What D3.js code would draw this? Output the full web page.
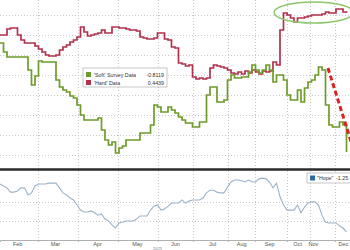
<!DOCTYPE html>
<html>
<head>
<meta charset="utf-8">
<script src="https://cdn.jsdelivr.net/npm/d3@7"></script>
<style>
  html, body { margin: 0; padding: 0; background: #fff; }
  svg { display: block; }
</style>
</head>
<body>
<div id="chart"></div>
<script>
const hardData = [
  0.40, 0.40, 0.46, 0.47, 0.47, 0.40, 0.35, 0.32, 0.32, 0.32,
  0.29, 0.26, 0.23, 0.20, 0.19, 0.19, 0.20, 0.25, 0.28, 0.30,
  0.33, 0.35, 0.38, 0.48, 0.43, 0.39, 0.40, 0.41, 0.42, 0.45,
  0.42, 0.42, 0.48, 0.48, 0.47, 0.47, 0.46, 0.45, 0.45, 0.44,
  0.38, 0.37, 0.36, 0.36, 0.37, 0.42, 0.42, 0.36, 0.35, 0.28,
  0.27, 0.12, 0.11, 0.09, 0.10, -0.02, -0.04, -0.03, -0.04, -0.03,
  0.07, 0.10, 0.09, 0.08, 0.07, 0.05, 0.02, 0.01, 0.03, 0.01,
  0.04, 0.02, 0.05, 0.03, 0.01, 0.04, 0.03, 0.04, 0.13, 0.10,
  0.45, 0.62, 0.60, 0.57, 0.53, 0.57, 0.57, 0.58, 0.59, 0.60,
  0.60, 0.60, 0.61, 0.63, 0.62, 0.62, 0.66, 0.66, 0.63, 0.62
];
const softData = [
  0.32, 0.23, 0.18, 0.18, 0.18, 0.18, 0.18, 0.18, 0.05, -0.10,
  -0.01, 0.14, 0.13, 0.13, 0.13, 0.13, -0.05, -0.12, -0.15, -0.17,
  -0.21, -0.23, -0.30, -0.40, -0.45, -0.45, -0.45, -0.45, -0.43, -0.55,
  -0.65, -0.70, -0.67, -0.78, -0.73, -0.71, -0.65, -0.65, -0.65, -0.65,
  -0.58, -0.58, -0.58, -0.50, -0.30, -0.32, -0.37, -0.37, -0.32, -0.35,
  -0.38, -0.42, -0.45, -0.48, -0.48, -0.52, -0.52, -0.47, -0.47, -0.20,
  -0.12, -0.12, -0.27, -0.27, -0.25, -0.05, 0.00, -0.03, -0.03, -0.02,
  -0.02, 0.03, 0.10, 0.05, 0.02, 0.05, 0.10, 0.05, -0.07, 0.00,
  0.00, -0.05, -0.20, -0.25, -0.25, -0.15, -0.27, -0.13, -0.07, -0.05,
  0.00, 0.08, 0.05, -0.30, -0.50, -0.52, -0.52, -0.47, -0.50, -0.77
];
const hopeData = [
  -0.05, -0.10, -0.15, -0.26, -0.26, -0.23, -0.15, -0.15, -0.33, -0.28,
  -0.10, -0.05, -0.05, -0.05, -0.03, -0.03, -0.03, -0.15, -0.28, -0.33,
  -0.41, -0.46, -0.59, -0.72, -0.77, -0.77, -0.74, -0.79, -0.85, -0.82,
  -0.95, -1.00, -1.10, -1.18, -1.05, -1.03, -1.00, -1.00, -1.00, -0.95,
  -0.87, -0.87, -0.87, -0.72, -0.62, -0.59, -0.72, -0.69, -0.62, -0.54,
  -0.54, -0.54, -0.46, -0.54, -0.49, -0.46, -0.46, -0.46, -0.41, -0.28,
  -0.21, -0.21, -0.26, -0.28, -0.28, -0.13, 0.00, 0.05, 0.05, 0.03,
  0.00, 0.05, 0.00, 0.00, 0.08, 0.10, 0.08, 0.00, -0.15, -0.03,
  -0.38, -0.59, -0.72, -0.72, -0.72, -0.59, -0.79, -0.64, -0.54, -0.51,
  -0.51, -0.59, -0.85, -1.03, -1.05, -1.05, -1.05, -1.13, -1.18, -1.28
];

// x axis: month boundaries and label positions, in observation units
const monthBreaks = [10.9, 22.3, 33.7, 45.1, 55.1, 65.1, 72.9, 82, 88.6, 95.7];
const monthLabelAt = [4.9, 15.7, 27.7, 39.1, 50, 60.6, 68.9, 76.9, 84.9, 89.4, 98];
const monthLabels = ["Feb", "Mar", "Apr", "May", "Jun", "Jul", "Aug", "Sep", "Oct", "Nov", "Dec"];
const yearLabel = "2025";

const topLegendNames = ["'Soft' Survey Data", "'Hard' Data"];
const topLegendValues = ["-0.8119", "0.4439"];
const hopeLegendName = "\"Hope\"";
const hopeLegendValue = "-1.25";

// annotations (data units)
const ringX = [78.3, 101];
const ringY = [0.52, 0.73];
const arrowX = [93.7, 100.6];
const arrowY = [0.07, -0.70];

const width = 350, height = 250;
const colors = { soft: "#6e9b2b", hard: "#b2304e", hope: "#9cb2c6" };

const svg = d3.select("#chart").append("svg")
  .attr("width", width)
  .attr("height", height)
  .style("background", "#fff");

const x = d3.scaleLinear().domain([0, 100]).range([0, width]);
const yTop = d3.scaleLinear().domain([-0.94, 0.75]).range([169, 0]);
const yBot = d3.scaleLinear().domain([-1.5, 0.5]).range([240.5, 162.5]);

const defs = svg.append("defs");
defs.append("clipPath").attr("id", "clipTop")
  .append("rect").attr("x", 0).attr("y", 0).attr("width", width).attr("height", 168);
defs.append("clipPath").attr("id", "clipBot")
  .append("rect").attr("x", 0).attr("y", 171).attr("width", width).attr("height", 70);

// gridlines
const grid = svg.append("g").attr("stroke", "#c8c8c8").attr("stroke-dasharray", "1,2");
grid.selectAll("line.h-top")
  .data(d3.range(-0.8, 0.61, 0.2))
  .join("line")
  .attr("class", "h-top")
  .attr("x1", 0).attr("x2", width)
  .attr("y1", d => Math.round(yTop(d)) + 0.5)
  .attr("y2", d => Math.round(yTop(d)) + 0.5);
grid.selectAll("line.h-bot")
  .data([-0.5, -1.0])
  .join("line")
  .attr("class", "h-bot")
  .attr("x1", 0).attr("x2", width)
  .attr("y1", d => Math.round(yBot(d)) + 0.5)
  .attr("y2", d => Math.round(yBot(d)) + 0.5);
grid.selectAll("line.v")
  .data(monthBreaks)
  .join("line")
  .attr("class", "v")
  .attr("x1", d => Math.round(x(d)) + 0.5)
  .attr("x2", d => Math.round(x(d)) + 0.5)
  .attr("y1", 0).attr("y2", 240);

// top panel lines
const topLine = d3.line()
  .x((d, i) => x(i))
  .y(d => yTop(d))
  .curve(d3.curveStepAfter);

const topG = svg.append("g").attr("clip-path", "url(#clipTop)");
topG.append("path")
  .datum(hardData)
  .attr("d", topLine)
  .attr("fill", "none")
  .attr("stroke", colors.hard)
  .attr("stroke-width", 1.7);
topG.append("path")
  .datum(softData)
  .attr("d", topLine)
  .attr("fill", "none")
  .attr("stroke", colors.soft)
  .attr("stroke-width", 1.7);

// ring round the latest hard data
topG.append("ellipse")
  .attr("cx", x((ringX[0] + ringX[1]) / 2))
  .attr("cy", yTop((ringY[0] + ringY[1]) / 2))
  .attr("rx", (x(ringX[1]) - x(ringX[0])) / 2)
  .attr("ry", (yTop(ringY[0]) - yTop(ringY[1])) / 2)
  .attr("fill", "none")
  .attr("stroke", "#8dc66b")
  .attr("stroke-width", 1.5);

// dashed red trend line
topG.append("line")
  .attr("x1", x(arrowX[0])).attr("y1", yTop(arrowY[0]))
  .attr("x2", x(arrowX[1])).attr("y2", yTop(arrowY[1]))
  .attr("stroke", "#dd2222")
  .attr("stroke-width", 3)
  .attr("stroke-dasharray", "5,3");

// bottom panel
const botG = svg.append("g").attr("clip-path", "url(#clipBot)");
botG.append("path")
  .datum(hopeData)
  .attr("d", d3.line().x((d, i) => x(i)).y(d => yBot(d)))
  .attr("fill", "none")
  .attr("stroke", colors.hope)
  .attr("stroke-width", 1.1);

// panel separator
svg.append("line")
  .attr("x1", 0).attr("x2", width)
  .attr("y1", 169.5).attr("y2", 169.5)
  .attr("stroke", "#2b2b2b")
  .attr("stroke-width", 2.4);

// x axis: ticks at month breaks, labels between
const axisG = svg.append("g").attr("transform", "translate(0,240)");
axisG.call(d3.axisBottom(x).tickValues(monthBreaks).tickSize(2).tickFormat(""));
axisG.select(".domain").attr("stroke", "#b0b0b0");
axisG.selectAll(".tick line").attr("stroke", "#b0b0b0");

const labelG = svg.append("g").attr("transform", "translate(0,240)");
labelG.call(d3.axisBottom(x).tickValues(monthLabelAt).tickSize(0).tickPadding(2)
  .tickFormat((d, i) => monthLabels[i]));
labelG.select(".domain").remove();
labelG.selectAll("text")
  .attr("font-family", "Arial, 'Liberation Sans', sans-serif")
  .attr("font-size", 5.5)
  .attr("fill", "#555");

svg.append("text")
  .attr("x", x(45)).attr("y", 249.5)
  .attr("text-anchor", "middle")
  .attr("font-family", "Arial, 'Liberation Sans', sans-serif")
  .attr("font-size", 4)
  .attr("fill", "#777")
  .text(yearLabel);

// legend for the top panel
const leg = svg.append("g").attr("transform", "translate(83,68)")
  .attr("font-family", "Arial, 'Liberation Sans', sans-serif")
  .attr("font-size", 5.3)
  .attr("fill", "#333");
leg.append("rect")
  .attr("width", 84).attr("height", 19)
  .attr("fill", "#fff")
  .attr("stroke", "#a0a0a0")
  .attr("stroke-width", 0.6);
const legColors = [colors.soft, colors.hard];
const rows = leg.selectAll("g.row")
  .data(topLegendNames)
  .join("g")
  .attr("class", "row")
  .attr("transform", (d, i) => `translate(3,${4 + i * 8})`);
rows.append("rect")
  .attr("width", 5).attr("height", 5)
  .attr("fill", (d, i) => legColors[i]);
rows.append("text")
  .attr("x", 8).attr("y", 4.5)
  .text(d => d);
rows.append("text")
  .attr("x", 78).attr("y", 4.5)
  .attr("text-anchor", "end")
  .text((d, i) => topLegendValues[i]);

// legend for the bottom panel
const hleg = svg.append("g").attr("transform", "translate(307,173)")
  .attr("font-family", "Arial, 'Liberation Sans', sans-serif")
  .attr("font-size", 5.3)
  .attr("fill", "#333");
hleg.append("rect")
  .attr("width", 60).attr("height", 10)
  .attr("fill", "#fff")
  .attr("stroke", "#a0a0a0")
  .attr("stroke-width", 0.6);
hleg.append("rect")
  .attr("x", 3).attr("y", 2.5)
  .attr("width", 5).attr("height", 5)
  .attr("fill", "#2d6aa0");
hleg.append("text").attr("x", 10).attr("y", 7).text(hopeLegendName);
hleg.append("text").attr("x", 29).attr("y", 7).text(hopeLegendValue);
</script>
</body>
</html>
